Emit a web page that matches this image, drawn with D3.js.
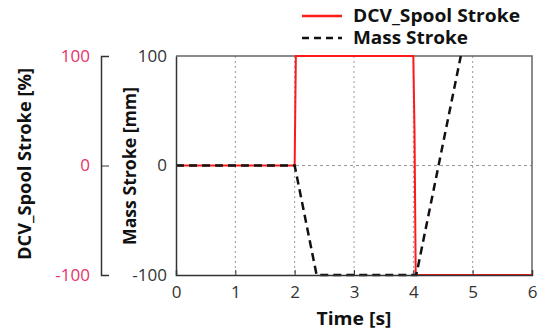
<!DOCTYPE html>
<html>
<head>
<meta charset="utf-8">
<script src="https://cdn.jsdelivr.net/npm/d3@7"></script>
<style>
  body { margin: 0; background: #fff; }
  text { font-family: "Open Sans", "Noto Sans", sans-serif; }
</style>
</head>
<body>
<div id="chart"></div>
<script>
// data
const massTime = [0, 2.0, 2.37, 4.05, 4.8];
const massStroke = [0, 0, -100, -100, 100];
const spoolTime = [0, 2.0, 2.02, 4.0, 4.02, 4.04, 6];
const spoolStroke = [0, 0, 100, 100, 30, -100, -100];
const timeTicks = [0, 1, 2, 3, 4, 5, 6];
const strokeTicks = [-100, 0, 100];

const W = 547, H = 331;
const margin = { top: 56, right: 15, bottom: 56, left: 176 };
const width = 532 - margin.left;
const height = 275 - margin.top;
const pink = "#e8326a";
const fmt = d => String(d); // plain hyphen minus

const svg = d3.select("#chart").append("svg")
  .attr("width", W).attr("height", H);

const g = svg.append("g")
  .attr("transform", `translate(${margin.left},${margin.top})`);

const x = d3.scaleLinear().domain([0, 6]).range([0, width]);
const y = d3.scaleLinear().domain([-100, 100]).range([height, 0]);

// grid
g.append("g")
  .selectAll("line")
  .data(timeTicks.slice(1, -1))
  .join("line")
  .attr("x1", d => x(d)).attr("x2", d => x(d))
  .attr("y1", 0).attr("y2", height)
  .attr("stroke", "#999").attr("stroke-width", 1)
  .attr("stroke-dasharray", "2,3");

g.append("line")
  .attr("x1", 0).attr("x2", width)
  .attr("y1", y(0)).attr("y2", y(0))
  .attr("stroke", "#999").attr("stroke-width", 1)
  .attr("stroke-dasharray", "3,3");

// frame top / right
g.append("path")
  .attr("d", `M0,0H${width}V${height}`)
  .attr("fill", "none").attr("stroke", "#666").attr("stroke-width", 1.5);

// lines
const spool = spoolTime.map((t, i) => [t, spoolStroke[i]]);
const mass = massTime.map((t, i) => [t, massStroke[i]]);
const line = d3.line().x(d => x(d[0])).y(d => y(d[1]));

g.append("path").datum(spool)
  .attr("fill", "none").attr("stroke", "#ff1a1a").attr("stroke-width", 2)
  .attr("d", line);

g.append("path").datum(mass)
  .attr("fill", "none").attr("stroke", "#111").attr("stroke-width", 2.5)
  .attr("stroke-dasharray", "8,5")
  .attr("d", line);

// axes
const xAxis = g.append("g")
  .attr("transform", `translate(0,${height})`)
  .call(d3.axisBottom(x).tickValues(timeTicks).tickFormat(fmt).tickSize(-5).tickPadding(11));

const yAxis = g.append("g")
  .call(d3.axisLeft(y).tickValues(strokeTicks).tickFormat(fmt).tickSize(0).tickPadding(9));

[xAxis, yAxis].forEach(a => {
  a.select(".domain").attr("stroke", "#333").attr("stroke-width", 1.5);
  a.selectAll(".tick line").attr("stroke", "#333");
  a.selectAll("text").attr("font-size", 17).attr("fill", "#333")
    .style("font-family", "'Open Sans', sans-serif");
});
xAxis.selectAll(".tick line").filter(d => d === 0 || d === 6).remove();

// secondary spool axis
const y2Axis = svg.append("g")
  .attr("transform", `translate(101,${margin.top})`)
  .call(d3.axisRight(y).tickValues(strokeTicks).tickFormat(fmt).tickSize(8).tickSizeOuter(8));
y2Axis.select(".domain").attr("stroke", "#333").attr("stroke-width", 1.5);
y2Axis.selectAll(".tick line").attr("stroke", "#333");
y2Axis.selectAll("text")
  .attr("x", -11).attr("text-anchor", "end")
  .attr("font-size", 17).attr("fill", pink)
  .style("font-family", "'Open Sans', sans-serif");

// axis titles
const title = (txt, len) => svg.append("text")
  .attr("text-anchor", "middle")
  .attr("font-size", 17).attr("font-weight", "bold").attr("fill", "#111")
  .attr("textLength", len).attr("lengthAdjust", "spacingAndGlyphs")
  .text(txt);

title("DCV_Spool Stroke [%]", 192).attr("transform", "translate(31,164) rotate(-90)");
title("Mass Stroke [mm]", 158).attr("transform", "translate(136,166) rotate(-90)");
title("Time [s]", 75).attr("x", 354).attr("y", 325);

// legend
const legend = svg.append("g");
const items = [
  { name: "DCV_Spool Stroke", color: "#ff1a1a", dash: null, len: 167 },
  { name: "Mass Stroke", color: "#111", dash: "7,5", len: 115 }
];
items.forEach((it, i) => {
  const yy = 16 + i * 22;
  legend.append("line")
    .attr("x1", 302).attr("x2", 342).attr("y1", yy).attr("y2", yy)
    .attr("stroke", it.color).attr("stroke-width", 2.5)
    .attr("stroke-dasharray", it.dash);
  legend.append("text")
    .attr("x", 353).attr("y", yy + 6)
    .attr("font-size", 17).attr("font-weight", "bold").attr("fill", "#111")
    .attr("textLength", it.len).attr("lengthAdjust", "spacingAndGlyphs")
    .text(it.name);
});
</script>
</body>
</html>
